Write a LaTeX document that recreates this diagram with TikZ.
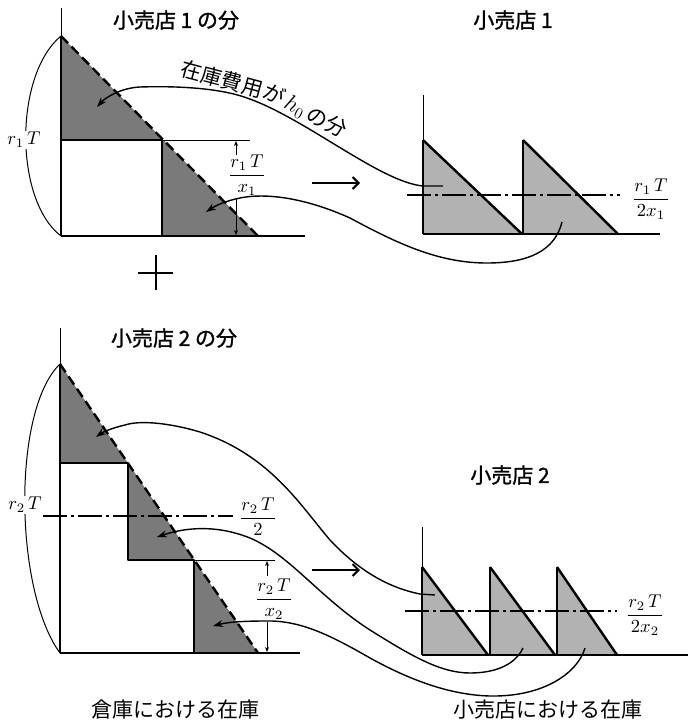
\documentclass[tikz,border=0pt]{standalone}
\usepackage{fontspec}
\newfontfamily\jp{Noto Sans CJK JP}
\newfontfamily\jpb[FakeBold=1.2]{Noto Sans CJK JP}
\usetikzlibrary{arrows.meta}

% math labels, set large
\newcommand{\mlab}[1]{\scalebox{1.85}{$\displaystyle #1$}}

\tikzset{
  axisline/.style={line width=1pt},
  edgeline/.style={line width=2.4pt},
  hypline/.style={line width=2.4pt, dash pattern=on 10pt off 5pt},
  baseline/.style={line width=2pt},
  whfill/.style={fill=black!52},
  stfill/.style={fill=black!30},
  linkcurve/.style={line width=1.4pt, -{Stealth[length=10pt,width=7pt]}},
  dimarr/.style={line width=0.9pt, -{Stealth[length=5pt,width=4pt]}},
  avgline/.style={line width=1.2pt, dash pattern=on 24pt off 4pt on 3pt off 4pt},
  bigarr/.style={line width=2pt, -{Straight Barb[length=6pt,width=12pt]}},
  jtitle/.style={font=\jpb\fontsize{21}{24}\selectfont, inner sep=0pt},
  jtext/.style={font=\jp\fontsize{21}{24}\selectfont, inner sep=0pt},
  mtext/.style={inner sep=1pt},
}

\begin{document}
\begin{tikzpicture}[x=1pt, y=-1pt, line join=round]

  %% ==== fills ====
  % warehouse, store 1 part
  \fill[whfill] (61,36) -- (163.4,140) -- (61,140) -- cycle;
  \fill[whfill] (162,140) -- (163.4,140) -- (258,236) -- (162,236) -- cycle;
  % warehouse, store 2 part
  \fill[whfill] (60,364) -- (127.8,463) -- (60,463) -- cycle;
  \fill[whfill] (128,463) -- (194.3,560) -- (128,560) -- cycle;
  \fill[whfill] (194,560) -- (258,653) -- (194,653) -- cycle;
  % store 1
  \fill[stfill] (423,140) -- (522,234) -- (423,234) -- cycle;
  \fill[stfill] (523,140) -- (618,234) -- (523,234) -- cycle;
  % store 2
  \fill[stfill] (422,567) -- (488,655) -- (422,655) -- cycle;
  \fill[stfill] (490,567) -- (555,655) -- (490,655) -- cycle;
  \fill[stfill] (557,567) -- (617,655) -- (557,655) -- cycle;

  %% ==== warehouse, store 1 part ====
  \draw[axisline] (61,8) -- (61,236);
  \draw[edgeline] (61,36) -- (61,236);
  \draw[baseline] (61,236) -- (305,236);
  \draw[edgeline] (61,140) -- (163,140);
  \draw[edgeline] (162,140) -- (162,236);
  \draw[axisline] (163,140) -- (250,140);
  \draw[hypline] (61,36) -- (258,236);
  \draw[dimarr] (236,155) -- (236,141);
  \draw[dimarr] (236,198) -- (236,235);
  \draw[line width=1pt] (61,36) .. controls (14,75) and (14,200) .. (61,236);

  %% ==== warehouse, store 2 part ====
  \draw[axisline] (60,328) -- (60,653);
  \draw[edgeline] (60,364) -- (60,653);
  \draw[baseline] (60,653) -- (300,653);
  \draw[edgeline] (60,463) -- (128,463) -- (128,560) -- (194,560) -- (194,653);
  \draw[axisline] (194,560) -- (275,560);
  \draw[hypline] (60,364) -- (258,653);
  \draw[avgline] (43,516) -- (233,516);
  \draw[dimarr] (267,576) -- (267,561);
  \draw[dimarr] (267,622) -- (267,652);
  \draw[line width=1pt] (60,364) .. controls (12,410) and (14,590) .. (60,653);

  %% ==== plus sign ====
  \draw[line width=1.8pt] (138,273) -- (173,273);
  \draw[line width=1.8pt] (156,255) -- (156,290);

  %% ==== store 1 ====
  \draw[axisline] (423,95) -- (423,140);
  \draw[baseline] (423,234) -- (660,234);
  \draw[edgeline] (423,140) -- (423,234);
  \draw[edgeline] (423,140) -- (522,234);
  \draw[edgeline] (523,140) -- (523,234);
  \draw[edgeline] (523,140) -- (618,234);
  \draw[avgline] (407,195) -- (620,195);

  %% ==== store 2 ====
  \draw[axisline] (422,527) -- (422,567);
  \draw[baseline] (422,655) -- (688,655);
  \draw[edgeline] (422,567) -- (422,655);
  \draw[edgeline] (422,567) -- (488,655);
  \draw[edgeline] (490,567) -- (490,655);
  \draw[edgeline] (490,567) -- (555,655);
  \draw[edgeline] (557,567) -- (557,655);
  \draw[edgeline] (557,567) -- (617,655);
  \draw[avgline] (405,611) -- (617,611);

  %% ==== arrows between the parts ====
  \draw[bigarr] (312,183) -- (360,183);
  \draw[bigarr] (312,570) -- (360,570);

  %% ==== curves: store stock -> warehouse stock ====
  \coordinate (s1a) at (443,186);
  \coordinate (w1a) at (97,107);
  \coordinate (s1b) at (562,222);
  \coordinate (w1b) at (206,212);
  \coordinate (s2a) at (435,595);
  \coordinate (w2a) at (96,437);
  \coordinate (s2b) at (523,648);
  \coordinate (w2b) at (157,537);
  \coordinate (s2c) at (585,648);
  \coordinate (w2c) at (213,626);

  \draw[linkcurve] (s1a) -- (423,186) .. controls (380,182) and (305,118) .. (247,98)
    .. controls (217,87) and (170,86) .. (140,87) .. controls (120,88) and (105,98) .. (w1a);
  \draw[linkcurve] (s1b) .. controls (555,250) and (530,263) .. (487,263)
    .. controls (440,263) and (400,245) .. (350,218) .. controls (310,200) and (270,192) .. (240,198)
    .. controls (225,201) and (215,206) .. (w1b);
  \draw[linkcurve] (s2a) -- (420,594) .. controls (390,588) and (360,572) .. (330,540)
    .. controls (300,505) and (270,455) .. (200,432) .. controls (170,423) and (140,420) .. (125,425)
    .. controls (112,428) and (103,432) .. (w2a);
  \draw[linkcurve] (s2b) .. controls (515,665) and (495,673) .. (470,673)
    .. controls (440,673) and (410,655) .. (370,630) .. controls (320,598) and (290,555) .. (250,538)
    .. controls (220,526) and (190,526) .. (w2b);
  \draw[linkcurve] (s2c) .. controls (578,672) and (545,697) .. (490,696)
    .. controls (450,695) and (410,680) .. (370,658) .. controls (330,635) and (300,620) .. (265,621)
    .. controls (245,621) and (228,622) .. (w2c);

  %% ==== labels ====
  \node[jtitle] (wh1title) at (176,20) {小売店 1 の分};
  \node[jtitle] (st1title) at (513,20) {小売店 1};
  \node[jtitle] (wh2title) at (174,338) {小売店 2 の分};
  \node[jtitle] (st2title) at (510,475) {小売店 2};
  \node[jtext] (whlabel) at (175,710) {倉庫における在庫};
  \node[jtext] (stlabel) at (548,710) {小売店における在庫};
  \node[jtext, rotate=-15] (costa) at (222,79) {在庫費用};
  \node[jtext, rotate=-27] (costb) at (305,111) {が\,\scalebox{1.1}{$h_0$}\,の分};

  \node[mtext, fill=white] (r1T) at (24,140) {\mlab{r_1\,T}};
  \node[mtext, fill=white] (r2T) at (25,505) {\mlab{r_2\,T}};
  \node[mtext] (q1) at (247,175) {\mlab{\frac{r_1\,T}{x_1}}};
  \node[mtext] (q2) at (274,599) {\mlab{\frac{r_2\,T}{x_2}}};
  \node[mtext] (half2) at (258,517) {\mlab{\frac{r_2\,T}{2}}};
  \node[mtext] (avg1) at (651,199) {\mlab{\frac{r_1\,T}{2x_1}}};
  \node[mtext] (avg2) at (645,615) {\mlab{\frac{r_2\,T}{2x_2}}};

  \pgfresetboundingbox
  \path[use as bounding box] (0,0) rectangle (688,725);
\end{tikzpicture}
\end{document}
